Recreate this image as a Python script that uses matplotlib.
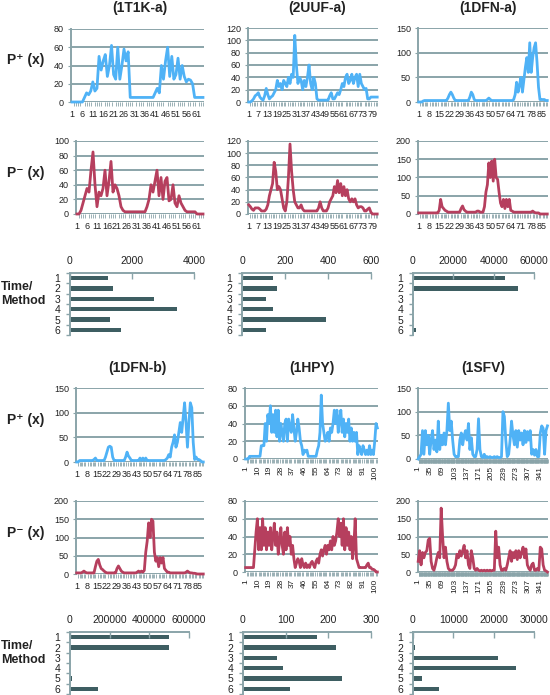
import numpy as np
import matplotlib.pyplot as plt

plt.rcParams['font.family'] = ['Liberation Sans', 'DejaVu Sans']

# ---- data ----
t1k_plus = [0, 0, 0, 0, 0, 0, 5, 10, 8, 12, 22, 12, 15, 50, 35, 45, 52, 28, 40, 62,
            30, 25, 60, 25, 40, 58, 45, 55, 5, 5, 5, 5, 5, 5, 5, 5, 5, 5, 5, 5,
            10, 15, 10, 40, 25, 45, 60, 28, 50, 25, 30, 48, 25, 40, 28, 22, 25, 24, 20,
            5, 5, 5, 5, 5]
t1k_minus = [0, 0, 5, 15, 25, 35, 30, 60, 85, 40, 10, 30, 25, 35, 60, 25, 45, 72, 30, 40,
             35, 25, 10, 5, 3, 3, 3, 3, 3, 3, 3, 3, 3, 3, 3, 10, 20, 40, 30, 45,
             60, 25, 50, 20, 45, 50, 18, 20, 40, 15, 10, 25, 15, 10, 5, 3, 3, 3, 3, 3,
             0, 0, 0, 0]
uuf_plus = [0, 0, 2, 5, 10, 12, 15, 8, 5, 3, 10, 22, 12, 5, 8, 10, 15, 20, 35, 25,
            30, 20, 35, 30, 25, 40, 30, 45, 40, 108, 60, 30, 40, 35, 20, 35, 25, 40, 60, 30,
            20, 40, 30, 5, 3, 3, 3, 3, 3, 3, 3, 10, 15, 5, 5, 10, 15, 12, 20, 30,
            25, 40, 45, 30, 35, 45, 30, 40, 45, 25, 45, 30, 25, 20, 22, 5, 5, 8, 8, 8,
            8, 8]
uuf_minus = [15, 12, 8, 6, 10, 10, 10, 8, 5, 5, 5, 8, 15, 30, 40, 50, 85, 70, 40, 45,
             40, 25, 10, 5, 20, 60, 115, 70, 40, 20, 15, 10, 10, 15, 8, 5, 5, 5, 5, 5,
             5, 5, 5, 5, 10, 20, 10, 5, 5, 5, 10, 20, 25, 30, 45, 35, 55, 35, 50, 30,
             45, 30, 40, 25, 20, 25, 20, 25, 15, 10, 12, 12, 10, 5, 5, 8, 10, 3, 0, 0,
             0, 0]
dfna_plus = [0, 0, 0, 2, 3] + [3] * 15 + [8, 15, 20, 15, 8] + [3] * 10 + \
            [10, 20, 15, 5, 3, 3, 3, 3, 3, 3, 3, 3, 5, 8, 5] + [3] * 15 + \
            [5, 15, 40, 20, 35, 50, 20, 45, 70, 90, 60, 120, 60, 90, 110,
             120, 80, 30, 5, 5, 5, 5, 3, 3]
dfna_minus = [3] * 14 + [10, 40, 20, 15, 10, 8] + [5] * 9 + [15, 22, 12, 8] + \
             [5, 5, 5, 5, 5, 5, 5, 8, 8, 5, 5, 5, 20, 60, 80,
              140, 100, 145, 90, 150, 100, 95, 60, 30, 20, 40, 15, 40, 20, 40,
              10, 8, 5, 5, 5] + [5] * 10 + [8, 5, 3, 3, 3] + [0] * 6
dfnb_plus = [0, 0, 3] + [3] * 9 + [5, 8, 3] + [3] * 5 + [10, 20, 30, 32, 30, 10] + \
            [3] * 8 + [10, 20, 12, 8, 3] + [3] * 5 + [8, 3, 8, 3, 8, 3] + [3] * 12 + \
            [5, 8, 15, 10, 30, 40, 55, 30, 40, 60, 80, 60, 90, 120, 80,
             30, 80, 120, 110, 40, 5, 10, 5, 5, 3, 0, 0]
dfnb_minus = [3, 3, 3, 3, 5, 8, 5, 3] + [3] * 5 + [20, 35, 40, 25, 15, 12, 8, 5, 3] + \
             [3] * 6 + [15, 22, 15, 8, 5] + [3] * 9 + \
             [5, 8, 5, 8, 5, 10, 60, 90, 140, 100, 150, 145, 60, 35, 45, 20,
              45, 30, 45, 15, 10, 5, 5, 3, 3, 3] + [3] * 8 + \
             [5, 8, 5, 3, 3, 2, 2, 1, 0, 0, 0, 0, 0]
hpy_plus = [0, 0, 0] + [3] * 9 + \
           [15, 15, 15, 40, 20, 50, 40, 60, 30, 50, 30, 55, 25, 55, 20,
            40, 30, 20, 40, 45, 20, 45, 35, 30, 50, 35, 20, 30, 45, 35,
            20, 15, 5, 10, 8, 10, 3, 3, 3, 3, 3, 3, 3, 10, 15,
            30, 72, 40, 30, 20, 25, 30, 20, 35, 30, 40, 55, 40, 55, 30,
            45, 55, 30, 45, 25, 40, 30, 45, 20, 35, 20, 30, 20, 30, 5,
            15, 10, 5, 15, 10, 5, 10, 5, 15, 5, 10, 5, 20, 40, 35]
hpy_minus = [5] * 7 + \
            [25, 45, 60, 25, 50, 25, 60, 30, 50, 25, 45, 30, 50, 25, 40,
             55, 30, 45, 20, 35, 50, 30, 20, 45, 25, 50, 30, 40, 20, 30,
             15, 5, 10, 15, 12, 5, 15, 8, 5, 10, 5, 8, 5, 10, 12,
             8, 5, 12, 15, 10, 20, 25, 18, 25, 30, 20, 30, 25, 35, 25,
             40, 30, 35, 45, 60, 40, 55, 30, 60, 25, 50, 30, 45, 25, 40,
             15, 30, 60, 15, 10, 5, 5, 5, 5, 5, 5, 8, 10, 5, 5,
             3, 3, 2, 0, 0]
# 1SFV sampled every 4th residue (residues 1, 5, ..., 361)
sfv_plus = [0, 5, 10, 60, 10, 60, 30, 50, 10, 40, 60, 20, 40, 15, 80,
            20, 50, 30, 55, 30, 60, 118, 60, 80, 40, 10, 5, 5, 5, 40,
            55, 30, 50, 60, 40, 75, 20, 45, 10, 5, 5, 20, 85, 20, 5,
            3, 10, 3, 5, 3, 5, 3, 3, 5, 3, 5, 3, 3, 5, 100,
            90, 40, 5, 10, 40, 80, 50, 30, 60, 25, 60, 40, 55, 30, 60,
            35, 58, 40, 60, 10, 20, 8, 20, 5, 5, 55, 70, 65, 10, 60, 70]
sfv_minus = [30, 60, 20, 55, 40, 55, 60, 90, 95, 30, 10, 5, 20, 40, 55,
             40, 180, 100, 40, 70, 30, 10, 5, 5, 5, 10, 20, 50, 40, 60,
             45, 60, 75, 40, 60, 20, 10, 60, 40, 10, 5, 10, 5, 3, 5,
             3, 5, 3, 5, 3, 5, 3, 5, 5, 115, 40, 70, 20, 5, 5,
             10, 5, 20, 40, 60, 30, 55, 40, 60, 35, 60, 40, 55, 70, 40,
             65, 20, 10, 5, 20, 25, 5, 5, 10, 5, 70, 65, 20, 5, 3, 0]

methods = [1, 2, 3, 4, 5, 6]
t1k_time = [1240, 1400, 2700, 3450, 1290, 1650]
uuf_time = [144, 163, 112, 144, 390, 112]
dfna_time = [45400, 51900, 300, 300, 300, 1500]
dfnb_time = [497000, 497000, 2000, 2000, 10000, 140000]
hpy_time = [174, 219, 80, 94, 233, 110]
sfv_time = [300, 600, 21000, 25500, 2200, 6400]

BLUE = '#4fb2f6'
RED = '#b63f5e'
BAR = '#3e5e62'
GRID = '#8aa4a9'
TXT = '#222222'
W, H = 550, 695

fig = plt.figure(figsize=(W / 100, H / 100), dpi=100)


def px_axes(left, top, right, bottom):
    return fig.add_axes([left / W, 1 - bottom / H, (right - left) / W, (bottom - top) / H])


def line_panel(box, y, color, ymax, ystep, lab_step, nres, step=1, rotate=False):
    ax = px_axes(*box)
    x = 1 + step * np.arange(len(y))
    ax.plot(x, y, color=color, lw=2.0, solid_joinstyle='round', clip_on=False, zorder=3)
    ax.set_xlim(0.5, nres + 0.5)
    ax.set_ylim(0, ymax)
    ax.set_yticks(np.arange(0, ymax + 1, ystep))
    ax.grid(axis='y', color=GRID, lw=1.4)
    ax.set_axisbelow(True)
    for s in ['top', 'right', 'bottom']:
        ax.spines[s].set_visible(False)
    ax.spines['left'].set_color(GRID)
    ax.spines['left'].set_linewidth(1.4)
    ticks = np.arange(1, nres + 1, lab_step)
    ax.set_xticks(ticks)
    ax.set_xticks(np.arange(1, nres + 1), minor=True)
    if rotate:
        ax.set_xticklabels([str(t) for t in ticks], rotation=90, va='top')
        ax.tick_params(axis='x', which='major', length=0, pad=5, labelsize=6, labelcolor=TXT)
    else:
        ax.set_xticklabels([str(t) for t in ticks])
        ax.tick_params(axis='x', which='major', length=0, pad=6, labelsize=6.5, labelcolor=TXT)
    ax.tick_params(axis='x', which='minor', length=3, width=0.6, color=GRID)
    ax.tick_params(axis='y', length=2, color=GRID, labelsize=6.5, pad=3, labelcolor=TXT)
    return ax


def bar_panel(box, vals, xmax, xstep):
    ax = px_axes(*box)
    ax.barh(methods, vals, height=0.45, color=BAR)
    ax.set_ylim(6.5, 0.5)
    ax.set_xlim(0, xmax)
    ax.xaxis.tick_top()
    ax.set_xticks(np.arange(0, xmax + 1, xstep))
    ax.set_yticks(methods)
    ax.set_yticks(np.arange(0.5, 7, 1), minor=True)
    for s in ['bottom', 'right']:
        ax.spines[s].set_visible(False)
    for s in ['top', 'left']:
        ax.spines[s].set_color(GRID)
        ax.spines[s].set_linewidth(1.4)
    ax.tick_params(axis='x', direction='in', length=4, width=1, color=GRID,
                   labelsize=7.5, pad=5, labelcolor=TXT)
    ax.tick_params(axis='y', which='major', length=0, labelsize=7.5, pad=7, labelcolor=TXT)
    ax.tick_params(axis='y', which='minor', length=3, width=1, color=GRID)
    return ax


# top block
line_panel((71, 29, 204, 102), t1k_plus, BLUE, 80, 20, 5, 64)
line_panel((248, 28, 378, 102), uuf_plus, BLUE, 120, 20, 6, 82)
line_panel((418, 28, 548, 102), dfna_plus, BLUE, 150, 50, 7, 89)
line_panel((76, 141, 204, 214), t1k_minus, RED, 100, 20, 5, 64)
line_panel((248, 141, 378, 214), uuf_minus, RED, 120, 20, 6, 82)
line_panel((418, 141, 548, 214), dfna_minus, RED, 200, 50, 7, 89)
bar_panel((70, 273, 194, 335), t1k_time, 4000, 2000)
bar_panel((242, 273, 371, 335), uuf_time, 600, 200)
bar_panel((413, 273, 534, 335), dfna_time, 60000, 20000)

# bottom block
line_panel((76, 388, 204, 462), dfnb_plus, BLUE, 150, 50, 7, 89)
line_panel((245, 388, 378, 459), hpy_plus, BLUE, 80, 20, 9, 102, rotate=True)
line_panel((418, 388, 548, 459), sfv_plus, BLUE, 150, 50, 34, 362, step=4, rotate=True)
line_panel((76, 501, 204, 574), dfnb_minus, RED, 200, 50, 7, 89)
line_panel((245, 501, 378, 572), hpy_minus, RED, 80, 20, 9, 102, rotate=True)
line_panel((418, 501, 548, 572), sfv_minus, RED, 200, 50, 34, 362, step=4, rotate=True)
bar_panel((70, 632, 189, 694), dfnb_time, 600000, 200000)
bar_panel((243, 632, 371, 694), hpy_time, 300, 100)
bar_panel((413, 632, 534, 694), sfv_time, 30000, 10000)

# titles and row labels
titles = [('(1T1K-a)', 140, 8), ('(2UUF-a)', 317, 8), ('(1DFN-a)', 488, 8),
          ('(1DFN-b)', 137, 368), ('(1HPY)', 312, 368), ('(1SFV)', 483, 368)]
for t, x, y in titles:
    fig.text(x / W, 1 - y / H, t, ha='center', va='center', fontsize=10,
             fontweight='bold', color=TXT)

rows = [('P\u207a (x)', 60), ('P\u207b (x)', 173), ('P\u207a (x)', 420), ('P\u207b (x)', 533)]
for t, y in rows:
    fig.text(7 / W, 1 - y / H, t, ha='left', va='center', fontsize=10,
             fontweight='bold', color=TXT, family=['Liberation Sans', 'DejaVu Sans'])
for y in [294, 653]:
    fig.text(1 / W, 1 - y / H, 'Time/\nMethod', ha='left', va='center', fontsize=9,
             fontweight='bold', color=TXT, linespacing=1.15)

fig.savefig('out.png', dpi=100)
